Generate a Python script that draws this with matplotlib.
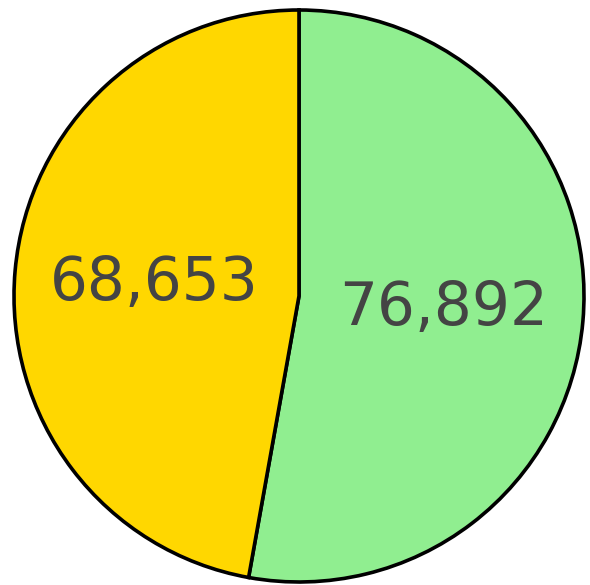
import matplotlib.pyplot as plt

# Data
labels = ["76,892", "68,653"]
values = [76892, 68653]
colors = ["#90EE90", "#FFD700"]

fig = plt.figure(figsize=(5.9, 5.85), dpi=100)
# pie centre ~ (299, 296) px, radius ~ 285 px
ax = fig.add_axes([14 / 590, 3 / 585, 570 / 590, 572 / 585])

wedges, texts = ax.pie(
    values,
    labels=labels,
    colors=colors,
    startangle=90,
    counterclock=False,
    labeldistance=0.51,
    wedgeprops={"edgecolor": "black", "linewidth": 2.6},
    textprops={"fontsize": 43, "color": "#444444", "family": "DejaVu Sans"},
)
for t in texts:
    t.set_horizontalalignment("center")
    t.set_verticalalignment("center")
for w in wedges:
    w.set_clip_on(False)

ax.set_xlim(-1, 1)
ax.set_ylim(-1, 1)
ax.set_aspect("auto")
ax.axis("off")

fig.savefig("out.png", dpi=100, facecolor="white")
